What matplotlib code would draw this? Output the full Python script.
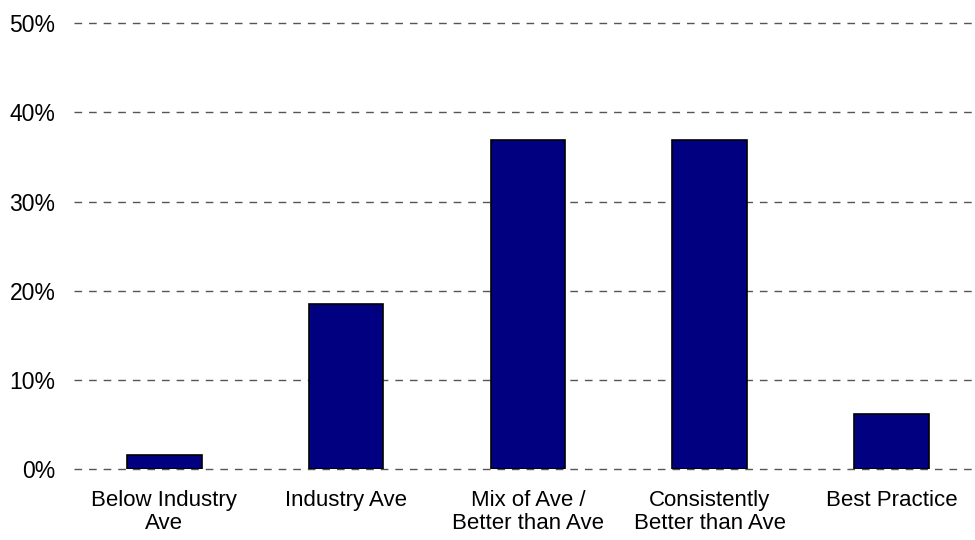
import matplotlib.pyplot as plt
from matplotlib.ticker import PercentFormatter

plt.rcParams["font.family"] = ["Liberation Sans", "DejaVu Sans"]

# ---------------------
# DATA
# ---------------------
categories = ["Below Industry\nAve", "Industry Ave", "Mix of Ave /\nBetter than Ave",
              "Consistently\nBetter than Ave", "Best Practice"]
counts = [1, 12, 24, 24, 4]
total = sum(counts)
shares = [c / total * 100 for c in counts]
y_ticks = [0, 10, 20, 30, 40, 50]

# ---------------------
# PLOT
# ---------------------
fig = plt.figure(figsize=(9.75, 5.4), dpi=100)
ax = fig.add_axes([0.0754, 0.1315, 0.9246, 0.8253])

ax.yaxis.grid(True, linestyle=(0, (5.5, 5)), color="#555555", linewidth=1)
ax.set_axisbelow(True)

x = range(len(categories))
ax.bar(x, shares, width=0.41, color="#000080", edgecolor="black", linewidth=1.2, zorder=3)

ax.set_xlim(-0.5, 4.46)
ax.set_ylim(0, 50)
ax.set_yticks(y_ticks)
ax.yaxis.set_major_formatter(PercentFormatter(decimals=0))
ax.set_xticks(list(x))
ax.set_xticklabels(categories, linespacing=1.15)
ax.tick_params(axis="both", length=0, labelsize=16.5, colors="black")
ax.tick_params(axis="x", labelsize=16)
ax.tick_params(axis="y", pad=13)
ax.tick_params(axis="x", pad=15)
# keep the 0% gridline whole instead of half clipped at the axes edge
for line in ax.get_ygridlines():
    line.set_clip_on(False)

for side in ["top", "right", "left", "bottom"]:
    ax.spines[side].set_visible(False)

fig.savefig("out.png", dpi=100)
